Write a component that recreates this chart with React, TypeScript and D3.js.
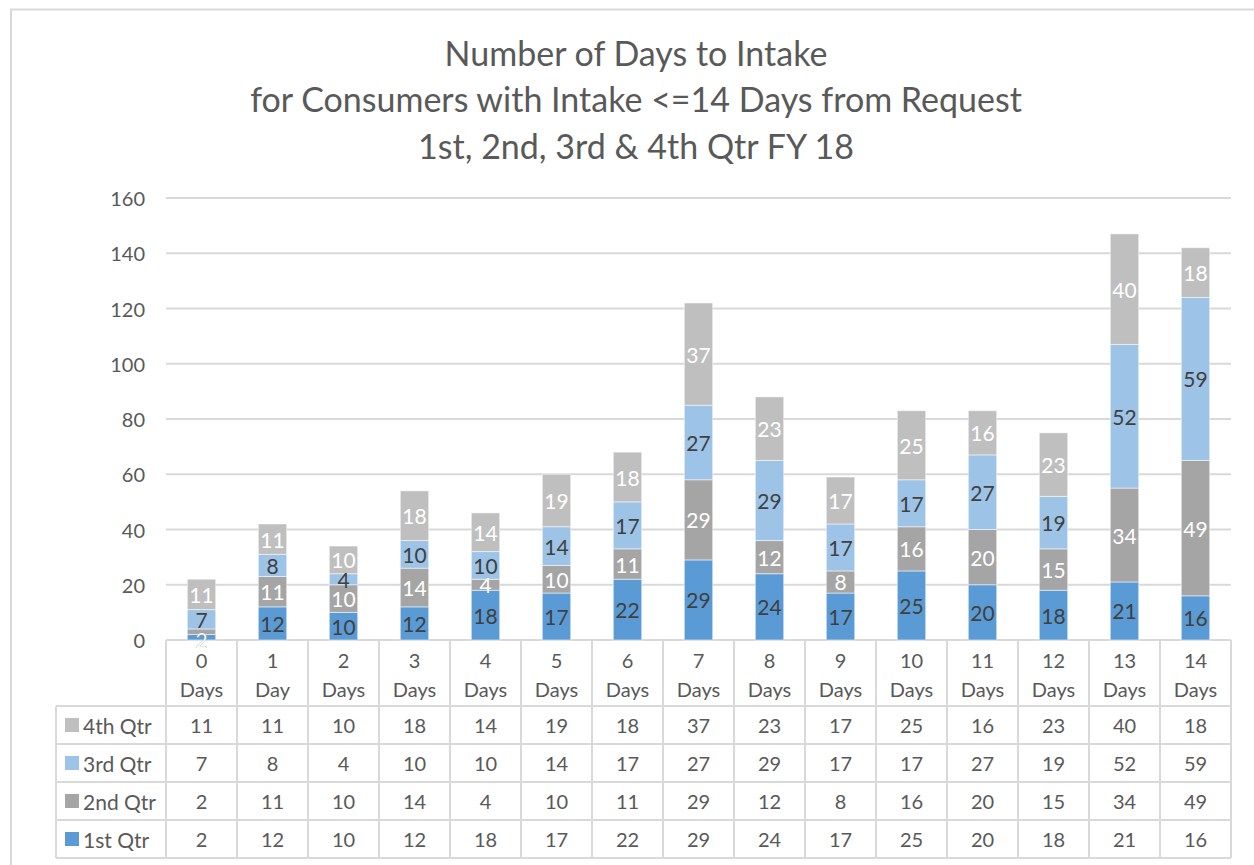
import React from 'react';
import * as d3 from 'd3';

const categories = ['0', '1', '2', '3', '4', '5', '6', '7', '8', '9', '10', '11', '12', '13', '14'];
const unitLabels = ['Days', 'Day', 'Days', 'Days', 'Days', 'Days', 'Days', 'Days', 'Days', 'Days', 'Days', 'Days', 'Days', 'Days', 'Days'];
const q1 = [2, 12, 10, 12, 18, 17, 22, 29, 24, 17, 25, 20, 18, 21, 16];
const q2 = [2, 11, 10, 14, 4, 10, 11, 29, 12, 8, 16, 20, 15, 34, 49];
const q3 = [7, 8, 4, 10, 10, 14, 17, 27, 29, 17, 17, 27, 19, 52, 59];
const q4 = [11, 11, 10, 18, 14, 19, 18, 37, 23, 17, 25, 16, 23, 40, 18];
const seriesNames = ['1st Qtr', '2nd Qtr', '3rd Qtr', '4th Qtr'];
const seriesColors = ['#5B9BD5', '#A5A5A5', '#9DC3E6', '#BFBFBF'];
const labelColors = ['#404040', '#ffffff', '#404040', '#ffffff'];
const yTicks = [0, 20, 40, 60, 80, 100, 120, 140, 160];
const titleLines = [
  'Number of Days to Intake',
  'for Consumers with Intake <=14 Days from Request',
  '1st, 2nd, 3rd & 4th Qtr FY 18',
];

const FONT = 'Lato, "Open Sans", sans-serif';
const TEXT = '#595959';
const GRID = '#D9D9D9';

export default function App() {
  const left = 166, right = 1231, top = 198, bottom = 640;
  const legendLeft = 56;
  const rowH = 38;
  const headerBottom = 706;

  const x = d3.scaleBand().domain(categories).range([left, right]).paddingInner(0.6).paddingOuter(0.3);
  const cols = d3.scaleBand().domain(categories).range([left, right]);
  const y = d3.scaleLinear().domain([0, 160]).range([bottom, top]);

  const rows = categories.map((c, i) => ({cat: c, q1: q1[i], q2: q2[i], q3: q3[i], q4: q4[i]}));
  const keys = ['q1', 'q2', 'q3', 'q4'];
  const stack = d3.stack<any>().keys(keys)(rows);
  const tableSeries = [q4, q3, q2, q1];
  const tableIdx = [3, 2, 1, 0];

  // tiny segments at the bottom of a bar get their label pushed to the axis, like excel does
  const labelY = (si, d) => {
    const v = d[1] - d[0];
    if (v < 5 && d[0] < 5) return y(0) - 1;
    return (y(d[0]) + y(d[1])) / 2;
  };

  return (
    <svg width={1254} height={865} style={{position: 'absolute', left: 0, top: 0, fontFamily: FONT}}>
      <rect x={0} y={0} width={1254} height={865} fill="#fff" />
      <path d={`M11,870 V9.5 H1260`} fill="none" stroke={GRID} strokeWidth={2} />

      {titleLines.map((t, i) => (
        <text key={i} x={636} y={52 + i * 46.5} textAnchor="middle" dominantBaseline="central" fontSize={34} fill={TEXT}>
          {t}
        </text>
      ))}

      {yTicks.map(t => (
        <g key={t}>
          <line x1={left} x2={right} y1={y(t)} y2={y(t)} stroke={GRID} strokeWidth={2} />
          <text x={145} y={y(t)} textAnchor="end" dominantBaseline="central" fontSize={20} fill={TEXT}>
            {t}
          </text>
        </g>
      ))}

      {stack.map((s, si) => (
        <g key={si}>
          {s.map((d, i) => (
            <rect
              key={i}
              x={x(categories[i])}
              y={y(d[1])}
              width={x.bandwidth()}
              height={y(d[0]) - y(d[1])}
              fill={seriesColors[si]}
              stroke="#ffffff"
              strokeOpacity={0.5}
              strokeWidth={1}
            />
          ))}
        </g>
      ))}
      {stack.map((s, si) => (
        <g key={'l' + si}>
          {s.map((d, i) => (
            <text
              key={i}
              x={(x(categories[i]) as number) + x.bandwidth() / 2}
              y={labelY(si, d)}
              textAnchor="middle"
              dominantBaseline="central"
              fontSize={21}
              fill={labelColors[si]}
            >
              {d[1] - d[0]}
            </text>
          ))}
        </g>
      ))}

      {/* data table */}
      {categories.map((c, i) => (
        <g key={'h' + i}>
          <text x={(cols(c) as number) + cols.bandwidth() / 2} y={660} textAnchor="middle" dominantBaseline="central" fontSize={20} fill={TEXT}>
            {c}
          </text>
          <text x={(cols(c) as number) + cols.bandwidth() / 2} y={689} textAnchor="middle" dominantBaseline="central" fontSize={20} fill={TEXT}>
            {unitLabels[i]}
          </text>
        </g>
      ))}
      {[...categories.map(c => cols(c) as number), right].map((xx, i) => (
        <line key={'v' + i} x1={xx} x2={xx} y1={bottom} y2={headerBottom + rowH * 4} stroke={GRID} strokeWidth={2} />
      ))}
      <line x1={legendLeft} x2={legendLeft} y1={headerBottom} y2={headerBottom + rowH * 4} stroke={GRID} strokeWidth={2} />
      {[0, 1, 2, 3, 4].map(r => (
        <line key={'r' + r} x1={legendLeft} x2={right} y1={headerBottom + r * rowH} y2={headerBottom + r * rowH} stroke={GRID} strokeWidth={2} />
      ))}
      {tableSeries.map((vals, r) => {
        const cy = headerBottom + r * rowH + rowH / 2;
        return (
          <g key={'t' + r}>
            <rect x={65} y={cy - 7} width={14} height={14} fill={seriesColors[tableIdx[r]]} />
            <text x={83} y={cy} dominantBaseline="central" fontSize={21} fill={TEXT}>
              {seriesNames[tableIdx[r]]}
            </text>
            {vals.map((v, i) => (
              <text key={i} x={(cols(categories[i]) as number) + cols.bandwidth() / 2} y={cy} textAnchor="middle" dominantBaseline="central" fontSize={20} fill={TEXT}>
                {v}
              </text>
            ))}
          </g>
        );
      })}
    </svg>
  );
}
